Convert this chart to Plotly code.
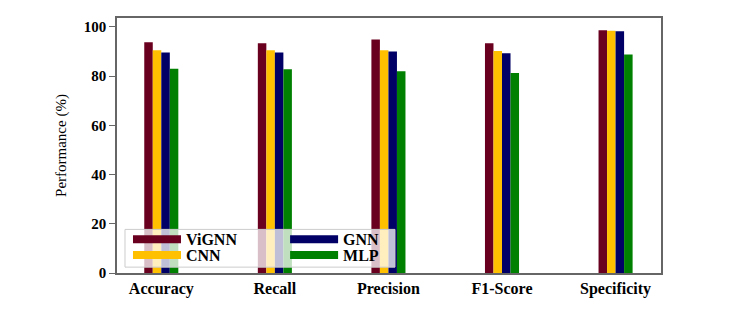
import plotly.graph_objects as go

categories = ["Accuracy", "Recall", "Precision", "F1-Score", "Specificity"]
vignn = [93.7, 93.3, 94.9, 93.3, 98.6]
cnn = [90.5, 90.5, 90.5, 90.2, 98.4]
gnn = [89.6, 89.6, 90.0, 89.3, 98.2]
mlp = [83.0, 82.8, 82.0, 81.3, 88.8]
series_names = ["ViGNN", "CNN", "GNN", "MLP"]
colors = ["#6a0020", "#ffc000", "#000066", "#008000"]

serif = "Liberation Serif, Times New Roman, serif"

fig = go.Figure()
for name, vals, col in zip(series_names, [vignn, cnn, gnn, mlp], colors):
    fig.add_trace(go.Bar(x=categories, y=vals, name=name, showlegend=False,
                         marker=dict(color=col, line=dict(width=0))))

# one legend per entry, arranged in two columns like the reference
legend_ids = ["legend", "legend3", "legend2", "legend4"]  # ViGNN, CNN, GNN, MLP
legend_pos = {"legend": (0.0202, 0.132), "legend3": (0.0202, 0.070),
              "legend2": (0.309, 0.132), "legend4": (0.309, 0.070)}
for name, col, lg in zip(series_names, colors, legend_ids):
    fig.add_trace(go.Scatter(x=[None], y=[None], mode="lines", name=name,
                             line=dict(color=col, width=8), legend=lg, hoverinfo="skip"))

legend_font = dict(family=serif, size=16, color="black", weight="bold")
legend_layouts = {}
for lg, (lx, ly) in legend_pos.items():
    legend_layouts[lg] = dict(orientation="v", x=lx, y=ly, xanchor="left", yanchor="middle",
                              bgcolor="rgba(0,0,0,0)", borderwidth=0, font=legend_font,
                              itemwidth=48, tracegroupgap=0)

fig.update_layout(
    width=731, height=307,
    margin=dict(l=109, r=78, t=8, b=42),
    paper_bgcolor="white", plot_bgcolor="white",
    barmode="group", bargap=0.7, bargroupgap=0,
    font=dict(family=serif, color="black"),
    shapes=[dict(type="rect", xref="paper", yref="paper", x0=0.0147, x1=0.511, y0=0.023, y1=0.171,
                 fillcolor="rgba(255,255,255,0.75)", line=dict(color="#cccccc", width=1), layer="above")],
    xaxis=dict(
        range=[-0.39, 4.40], showline=True, linecolor="#666666", linewidth=1.5, mirror=True,
        showgrid=False, ticks="", tickfont=dict(family=serif, size=16, weight="bold", color="black"),
    ),
    yaxis=dict(
        range=[0, 103.6], showline=True, linecolor="#666666", linewidth=1.5, mirror=True,
        showgrid=False, ticks="outside", ticklen=6, tickcolor="#666666",
        tickvals=[0, 20, 40, 60, 80, 100],
        tickfont=dict(family=serif, size=15, weight="bold", color="black"),
        title=dict(text="Performance (%)", font=dict(family=serif, size=15, color="black"), standoff=14),
        zeroline=False,
    ),
    **legend_layouts,
)

fig.write_html("out.html")
